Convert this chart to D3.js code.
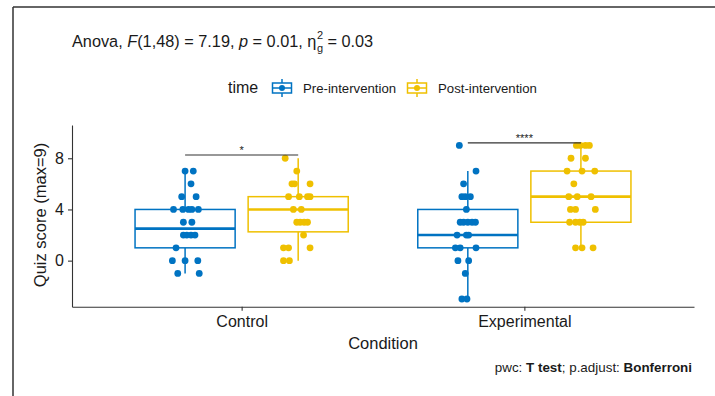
<!DOCTYPE html>
<html>
<head>
<meta charset="utf-8">
<script src="https://cdn.jsdelivr.net/npm/d3@7"></script>
<style>
  body { margin: 0; background: #fff; }
  text { font-family: "Liberation Sans", Arial, sans-serif; fill: #1a1a1a; }
</style>
</head>
<body>
<div id="chart"></div>
<script>
// categories and groups
var conditions = ["Control", "Experimental"];
var times = ["Pre-intervention", "Post-intervention"];
var colors = ["#0073C2", "#EFC000"];

// quiz scores (one array per condition x time)
var ctrlPre  = [7, 7, 6, 5, 5, 4, 4, 4, 4, 4, 3, 3, 2, 2, 2, 2, 1, 0, 0, 0, -1, -1];
var ctrlPost = [8, 7, 6, 6, 6, 5, 5, 5, 5, 4, 4, 3, 3, 3, 3, 2, 1, 1, 1, 0, 0];
var expPre   = [9, 7, 6, 5, 5, 5, 4, 3, 3, 3, 3, 3, 2, 2, 2, 1, 1, 1, 0, 0, -1, -3, -3];
var expPost  = [9, 9, 9, 9, 8, 8, 7, 7, 7, 6, 5, 5, 5, 4, 4, 4, 3, 3, 3, 3, 1, 1, 1];

// horizontal jitter of each point (category units)
var ctrlPreJit  = [0, .029, .021, -.012, .039, -.041, -.008, .012, .024, .047, -.006, .024, -.006, .006, .021, .035, -.032, -.045, 0, .045, -.026, .05];
var ctrlPostJit = [-.046, -.005, -.022, -.013, .042, -.034, .004, .033, .042, -.017, .011, -.005, .007, .021, .033, .019, -.052, -.034, .042, -.052, -.031];
var expPreJit   = [-.03, .029, -.015, -.021, -.009, .009, -.005, -.027, -.015, 0, .015, .027, -.038, -.005, .003, -.044, -.027, .029, -.035, .003, -.009, -.021, -.003];
var expPostJit  = [-.016, -.002, .016, .03, -.035, .016, -.049, .004, .049, -.025, -.043, -.013, .036, -.037, -.019, .051, -.04, -.019, -.004, .008, -.019, .004, .043];

// box stats: [whisker low, q1, median, q3, whisker high]
var ctrlPreBox  = [-1, 1, 2.5, 4, 7];
var ctrlPostBox = [0, 2.25, 4, 5, 8];
var expPreBox   = [-3, 1, 2, 4, 7];
var expPostBox  = [1, 3, 5, 7, 9];

// pairwise comparison brackets
var sigY = [8.25, 9.2];
var sigLabel = ["*", "****"];

var yTicks = [0, 4, 8];

var groups = [
  { cond: 0, time: 0, vals: ctrlPre,  jit: ctrlPreJit,  box: ctrlPreBox },
  { cond: 0, time: 1, vals: ctrlPost, jit: ctrlPostJit, box: ctrlPostBox },
  { cond: 1, time: 0, vals: expPre,   jit: expPreJit,   box: expPreBox },
  { cond: 1, time: 1, vals: expPost,  jit: expPostJit,  box: expPostBox }
];

var width = 715, height = 396;
var svg = d3.select("#chart").append("svg")
  .attr("width", width)
  .attr("height", height);

// outer frame (left and top edges visible)
svg.append("line").attr("x1", 13).attr("x2", 13).attr("y1", 7).attr("y2", height)
  .attr("stroke", "#333").attr("stroke-width", 1.5);
svg.append("line").attr("x1", 13).attr("x2", width).attr("y1", 7).attr("y2", 7)
  .attr("stroke", "#333").attr("stroke-width", 1.5);

var plotLeft = 72, plotRight = 694, plotTop = 125, plotBottom = 306.7;

// discrete x positions as a continuous scale (ggplot style expansion)
var x = d3.scaleLinear().domain([0.4, 2.6]).range([plotLeft, plotRight]);
var y = d3.scaleLinear().domain([-3.6, 10.6]).range([plotBottom, plotTop]);

var dodge = 0.2, boxW = 0.354;
function cx(g) { return x(g.cond + 1 + (g.time == 0 ? -dodge : dodge)); }

// axes
var yAxis = svg.append("g")
  .attr("transform", "translate(" + plotLeft + ",0)")
  .call(d3.axisLeft(y).tickValues(yTicks).tickSize(4).tickSizeOuter(0));
var xAxis = svg.append("g")
  .attr("transform", "translate(0," + plotBottom + ")")
  .call(d3.axisBottom(x).tickValues([1, 2]).tickFormat(function(d) { return conditions[d - 1]; })
    .tickSize(4).tickSizeOuter(0));

[yAxis, xAxis].forEach(function(a) {
  a.select(".domain").attr("stroke", "#333").attr("stroke-width", 1.1);
  a.selectAll(".tick line").attr("stroke", "#333").attr("stroke-width", 1.1);
  a.selectAll("text").attr("font-size", "16px").attr("fill", "#1a1a1a")
    .style("font-family", "Liberation Sans, Arial, sans-serif");
});
yAxis.selectAll("text").attr("x", -8);
xAxis.selectAll("text").attr("y", 9);

// axis titles
svg.append("text")
  .attr("transform", "translate(46,215) rotate(-90)")
  .attr("text-anchor", "middle")
  .attr("font-size", "16.5px")
  .text("Quiz score (max=9)");
svg.append("text")
  .attr("x", 383).attr("y", 349)
  .attr("text-anchor", "middle")
  .attr("font-size", "16.5px")
  .text("Condition");

// boxes
var bg = svg.append("g").selectAll("g").data(groups).enter().append("g");

bg.append("line")
  .attr("x1", cx).attr("x2", cx)
  .attr("y1", d => y(d.box[0])).attr("y2", d => y(d.box[1]))
  .attr("stroke", d => colors[d.time]).attr("stroke-width", 1.5);
bg.append("line")
  .attr("x1", cx).attr("x2", cx)
  .attr("y1", d => y(d.box[3])).attr("y2", d => y(d.box[4]))
  .attr("stroke", d => colors[d.time]).attr("stroke-width", 1.5);
bg.append("rect")
  .attr("x", d => cx(d) - (x(boxW) - x(0)) / 2)
  .attr("width", x(boxW) - x(0))
  .attr("y", d => y(d.box[3]))
  .attr("height", d => y(d.box[1]) - y(d.box[3]))
  .attr("fill", "#fff")
  .attr("stroke", d => colors[d.time]).attr("stroke-width", 1.5);
bg.append("line")
  .attr("x1", d => cx(d) - (x(boxW) - x(0)) / 2)
  .attr("x2", d => cx(d) + (x(boxW) - x(0)) / 2)
  .attr("y1", d => y(d.box[2])).attr("y2", d => y(d.box[2]))
  .attr("stroke", d => colors[d.time]).attr("stroke-width", 2.6);

// jittered points
bg.each(function(g) {
  d3.select(this).selectAll("circle")
    .data(g.vals)
    .enter().append("circle")
    .attr("cx", (v, i) => cx(g) + x(g.jit[i]) - x(0))
    .attr("cy", v => y(v))
    .attr("r", 3.4)
    .attr("fill", colors[g.time]);
});

// significance brackets
conditions.forEach(function(c, i) {
  var x1 = x(i + 1 - dodge), x2 = x(i + 1 + dodge);
  svg.append("line")
    .attr("x1", x1).attr("x2", x2)
    .attr("y1", y(sigY[i])).attr("y2", y(sigY[i]))
    .attr("stroke", "#333").attr("stroke-width", 1.1);
  svg.append("text")
    .attr("x", (x1 + x2) / 2).attr("y", y(sigY[i]) - 1)
    .attr("text-anchor", "middle")
    .attr("font-size", "11px")
    .attr("fill", "#333")
    .text(sigLabel[i]);
});

// title with italic stats and eta squared
var title = svg.append("text")
  .attr("x", 72).attr("y", 47)
  .attr("font-size", "16.3px");
title.append("tspan").text("Anova, ");
title.append("tspan").attr("font-style", "italic").text("F");
title.append("tspan").text("(1,48) = 7.19, ");
title.append("tspan").attr("font-style", "italic").text("p");
title.append("tspan").text(" = 0.01, \u03b7");
var tEnd = 72 + title.node().getComputedTextLength();
svg.append("text").attr("x", tEnd + 0.5).attr("y", 39).attr("font-size", "11px").text("2");
svg.append("text").attr("x", tEnd + 0.5).attr("y", 52).attr("font-size", "11px").text("g");
svg.append("text").attr("x", tEnd + 11).attr("y", 47).attr("font-size", "16.3px")
  .text("= 0.03");

// legend
svg.append("text").attr("x", 228).attr("y", 93).attr("font-size", "16px").text("time");
var keyX = [272, 407];
times.forEach(function(t, i) {
  var kg = svg.append("g").attr("transform", "translate(" + keyX[i] + ",88)");
  kg.append("line").attr("x1", 10).attr("x2", 10).attr("y1", -9).attr("y2", 9)
    .attr("stroke", colors[i]).attr("stroke-width", 1.5);
  kg.append("rect").attr("x", 0.5).attr("y", -5).attr("width", 19).attr("height", 10)
    .attr("fill", "#fff").attr("stroke", colors[i]).attr("stroke-width", 1.5);
  kg.append("line").attr("x1", 0.5).attr("x2", 19.5).attr("y1", 0).attr("y2", 0)
    .attr("stroke", colors[i]).attr("stroke-width", 1.5);
  kg.append("circle").attr("cx", 10).attr("cy", 0).attr("r", 3).attr("fill", colors[i]);
  svg.append("text").attr("x", keyX[i] + 31).attr("y", 92.5)
    .attr("font-size", "13.2px").text(t);
});

// caption
var cap = svg.append("text")
  .attr("x", 692).attr("y", 372)
  .attr("text-anchor", "end")
  .attr("font-size", "13.4px");
cap.append("tspan").text("pwc: ");
cap.append("tspan").attr("font-weight", "bold").text("T test");
cap.append("tspan").text("; p.adjust: ");
cap.append("tspan").attr("font-weight", "bold").text("Bonferroni");
</script>
</body>
</html>
